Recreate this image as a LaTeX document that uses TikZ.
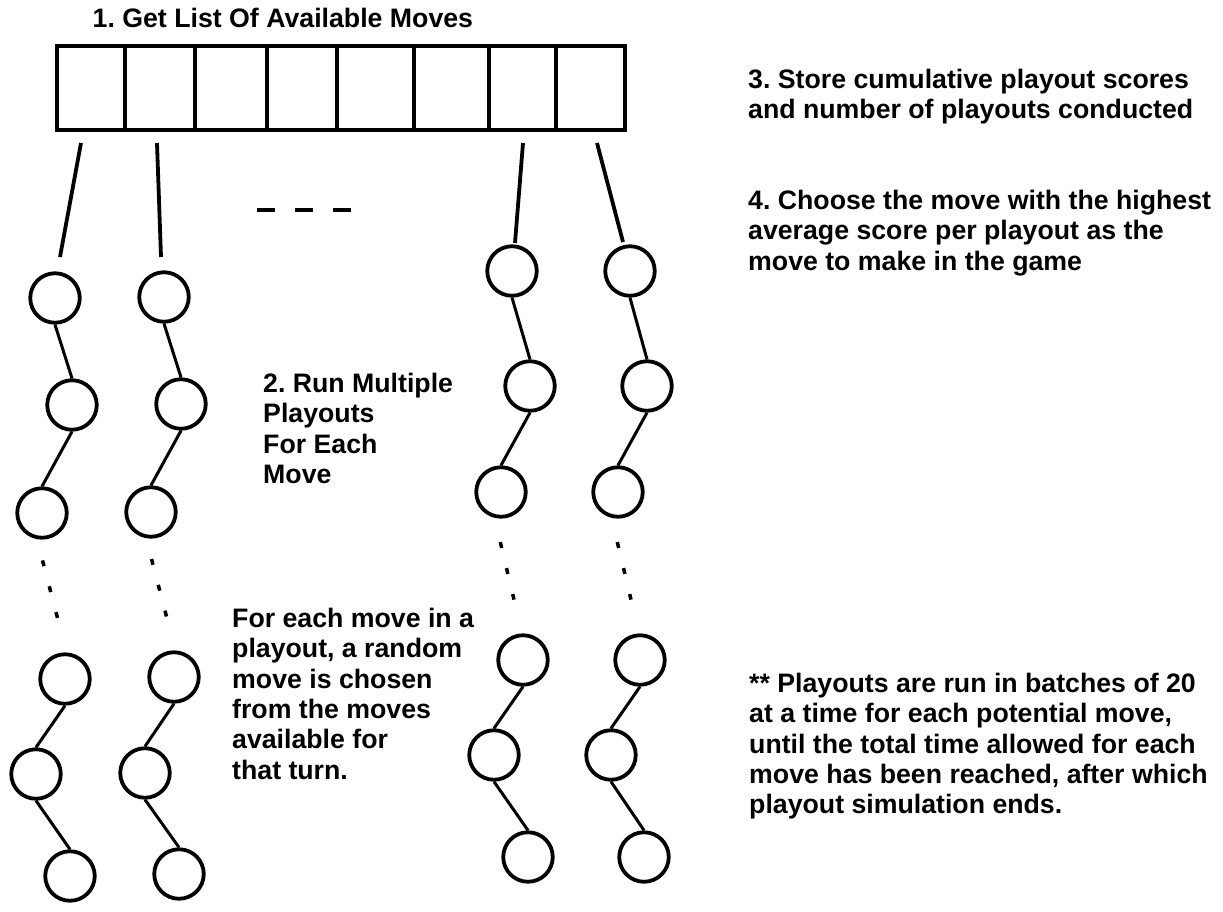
\documentclass[tikz,border=0pt]{standalone}
\usepackage{fontspec}
\setmainfont{Liberation Sans}
\usetikzlibrary{positioning}
\frenchspacing

\begin{document}
\begin{tikzpicture}[
  x=1pt, y=-1pt,
  every node/.style={font=\fontsize{26.7}{30.4}\selectfont\bfseries, inner sep=0pt},
  playnode/.style={circle, draw, line width=3.8pt, minimum size=49.5pt, inner sep=0pt},
  link/.style={line width=3pt},
  stub/.style={line width=3.8pt},
  gap/.style={line width=3.5pt, dash pattern=on 6pt off 20.7pt},
  boxline/.style={line width=4pt},
  lbl/.style={align=left, anchor=north west}
]
\useasboundingbox (0,0) rectangle (1223,911);

% --- 1. the list of moves
\node[anchor=base west] (title) at (92.5,27) {1. Get List Of Available Moves};
\draw[boxline] (57,46) rectangle (625,130);
\foreach \x in {125,195,267,337,414,489,556}
  \draw[boxline] (\x,46) -- (\x,130);

% the moves left out
\coordinate (dashL) at (257,210);
\coordinate (dashR) at (353,210);
\draw[line width=4pt, dash pattern=on 18pt off 20pt] (dashL) -- (dashR);

% --- column 1
\begin{scope}
  \coordinate (s) at (81,143);
  \coordinate (t) at (60,257);
  \node[playnode] (m1) at (55,298) {};
  \node[playnode] (m2) at (72,405) {};
  \node[playnode] (m3) at (42,513) {};
  \coordinate (d1) at (42.5,560.4);
  \coordinate (d2) at (57.5,617.9);
  \node[playnode] (m4) at (65,679) {};
  \node[playnode] (m5) at (36,774) {};
  \node[playnode] (m6) at (70,876) {};
  \draw[stub] (s) -- (t);
  \draw[link] (m1.south) -- (m2.north);
  \draw[link] (m2.south) -- (m3.north);
  \draw[gap]  (d1) -- (d2);
  \draw[link] (m4.south) -- (m5.north);
  \draw[link] (m5.south) -- (m6.north);
\end{scope}

% --- column 2
\begin{scope}[xshift=109pt]
  \coordinate (s) at (48,143);
  \coordinate (t) at (52,257);
  \node[playnode] (m1) at (55,297) {};
  \node[playnode] (m2) at (72,404) {};
  \node[playnode] (m3) at (42,512) {};
  \coordinate (d1) at (42.5,559);
  \coordinate (d2) at (57.5,616.5);
  \node[playnode] (m4) at (65,677) {};
  \node[playnode] (m5) at (36,773) {};
  \node[playnode] (m6) at (70,874) {};
  \draw[stub] (s) -- (t);
  \draw[link] (m1.south) -- (m2.north);
  \draw[link] (m2.south) -- (m3.north);
  \draw[gap]  (d1) -- (d2);
  \draw[link] (m4.south) -- (m5.north);
  \draw[link] (m5.south) -- (m6.north);
\end{scope}

% --- column 3
\begin{scope}
  \coordinate (s) at (523,143);
  \coordinate (t) at (515,243);
  \node[playnode] (m1) at (512,271) {};
  \node[playnode] (m2) at (530,386) {};
  \node[playnode] (m3) at (501,492) {};
  \coordinate (d1) at (500.3,542.1);
  \coordinate (d2) at (514,599.6);
  \node[playnode] (m4) at (523,660) {};
  \node[playnode] (m5) at (494,755) {};
  \node[playnode] (m6) at (528,857) {};
  \draw[stub] (s) -- (t);
  \draw[link] (m1.south) -- (m2.north);
  \draw[link] (m2.south) -- (m3.north);
  \draw[gap]  (d1) -- (d2);
  \draw[link] (m4.south) -- (m5.north);
  \draw[link] (m5.south) -- (m6.north);
\end{scope}

% --- column 4
\begin{scope}[xshift=117pt]
  \coordinate (s) at (480,143);
  \coordinate (t) at (506,242);
  \node[playnode] (m1) at (513,271) {};
  \node[playnode] (m2) at (530,386) {};
  \node[playnode] (m3) at (501,492) {};
  \coordinate (d1) at (500.3,542.1);
  \coordinate (d2) at (514,599.6);
  \node[playnode] (m4) at (523,660) {};
  \node[playnode] (m5) at (494,755) {};
  \node[playnode] (m6) at (527,857) {};
  \draw[stub] (s) -- (t);
  \draw[link] (m1.south) -- (m2.north);
  \draw[link] (m2.south) -- (m3.north);
  \draw[gap]  (d1) -- (d2);
  \draw[link] (m4.south) -- (m5.north);
  \draw[link] (m5.south) -- (m6.north);
\end{scope}

% --- notes
\node[lbl] (run) at (263,372.7) {2. Run Multiple\\Playouts\\For Each\\Move};
\node[lbl] (rand) at (232,607.7) {For each move in a\\playout, a random\\move is chosen\\from the moves\\available for\\that turn.};
\node[lbl] (store) at (748,68.7) {3. Store cumulative playout scores\\and number of playouts conducted};
\node[lbl] (choose) at (748,189.7) {4. Choose the move with the highest\\average score per playout as the\\move to make in the game};
\node[lbl] (batch) at (749,672.7) {** Playouts are run in batches of 20\\at a time for each potential move,\\until the total time allowed for each\\move has been reached, after which\\playout simulation ends.};

\end{tikzpicture}
\end{document}
